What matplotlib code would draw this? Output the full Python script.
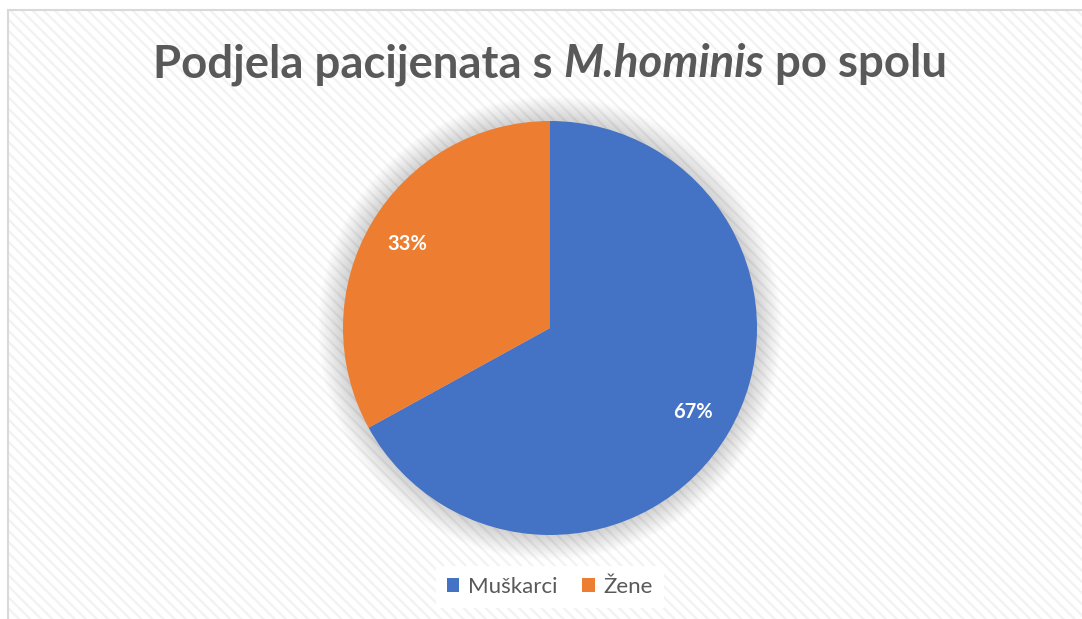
import matplotlib
matplotlib.use("Agg")
import matplotlib.pyplot as plt
from matplotlib.patches import Rectangle, Circle, Patch

categories = ["Muškarci", "Žene"]
values = [67, 33]
colors = ["#4472C4", "#ED7D31"]
title_parts = [("Podjela pacijenata s ", "normal"), ("M.hominis", "italic"), (" po spolu", "normal")]

W, H = 1082, 619
fig = plt.figure(figsize=(W / 100, H / 100), dpi=100)
fig.patch.set_facecolor("white")

# background with faint diagonal stripes
plt.rcParams["hatch.linewidth"] = 1.6
bg = Rectangle((8 / W, -0.01), 1.02, 1 - 10 / H + 0.01, transform=fig.transFigure,
               facecolor="white", edgecolor="#f2f2f2", hatch="\\\\\\", lw=0, zorder=-5)
fig.patches.append(bg)
border = Rectangle((8 / W, -0.01), 1.02, 1 - 10 / H + 0.01, transform=fig.transFigure,
                   facecolor="none", edgecolor="#d9d9d9", lw=1.5, zorder=-4)
fig.patches.append(border)

# pie axes
cx, cy, r = 550, 328, 207
ax = fig.add_axes([(cx - r) / W, (H - cy - r) / H, 2 * r / W, 2 * r / H])
ax.set_zorder(2)
ax.set_facecolor("none")
ax.axis("off")

# soft shadow
n = 22
for i in range(n):
    rr = 1.0 + 0.12 * (i + 1) / n
    ax.add_patch(Circle((0, 0.0), rr, facecolor="#000000", alpha=0.007, lw=0,
                        zorder=0, clip_on=False))

wedges, texts, autotexts = ax.pie(values, colors=colors, startangle=90, counterclock=False,
                                  autopct="%1.0f%%", pctdistance=0.8,
                                  wedgeprops=dict(linewidth=0),
                                  textprops=dict(color="white", fontsize=14.5,
                                                 fontweight="bold", family="Lato"))
for w in wedges:
    w.set_zorder(3)
for t in autotexts:
    t.set_zorder(4)
ax.set_xlim(-1, 1)
ax.set_ylim(-1, 1)

# title built from pieces
fs = 32.8
tcolor = "#595959"
fig.canvas.draw()
renderer = fig.canvas.get_renderer()
objs = []
for txt, style in title_parts:
    t = fig.text(0, 0, txt, fontsize=fs, fontweight="bold", style=style, color=tcolor,
                 family="Lato", va="baseline", ha="left")
    objs.append(t)
widths = [o.get_window_extent(renderer).width for o in objs]
total = sum(widths)
x0 = 550 - total / 2
base_y = 1 - 77 / H
for o, wdt in zip(objs, widths):
    o.set_position((x0 / W, base_y))
    x0 += wdt

# legend
handles = [Patch(facecolor=c, edgecolor="none") for c in colors]
leg = fig.legend(handles, categories, loc="center", bbox_to_anchor=(550 / W, 1 - 587 / H),
                 ncol=2, frameon=True, fontsize=16, handlelength=0.55, handleheight=0.55,
                 handletextpad=0.4, columnspacing=1.1, borderpad=0.5, fancybox=False)
frame = leg.get_frame()
frame.set_facecolor("white")
frame.set_edgecolor("none")
frame.set_alpha(1)
for t in leg.get_texts():
    t.set_color(tcolor)
    t.set_family("Lato")

fig.savefig("out.png", dpi=100)
